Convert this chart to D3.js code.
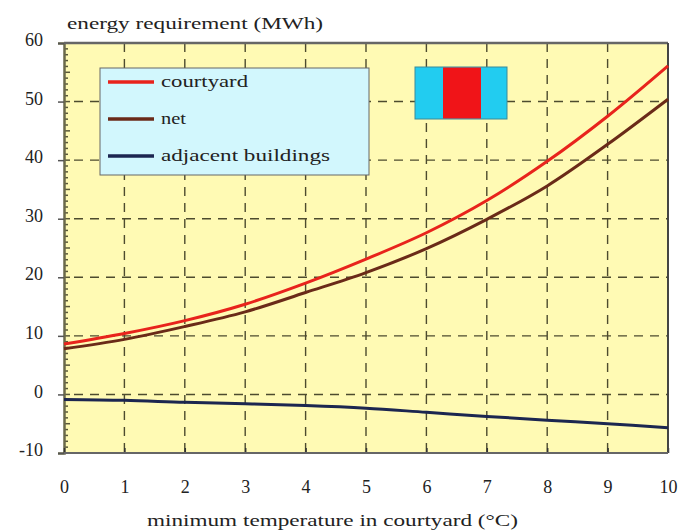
<!DOCTYPE html>
<html>
<head>
<meta charset="utf-8">
<script src="https://cdn.jsdelivr.net/npm/d3@7"></script>
<style>
html,body{margin:0;padding:0;background:#fff;}
svg{display:block;}
text{font-family:"Liberation Serif","Times New Roman",Times,serif;fill:#222;}
</style>
</head>
<body>
<svg id="chart" width="680" height="531"></svg>
<script>
const temperatures = [0,1,2,3,4,5,6,7,8,9,10];
const courtyard = [8.6,10.4,12.6,15.4,19.0,23.1,27.6,33.1,39.8,47.5,56.1];
const net = [7.8,9.4,11.6,14.1,17.4,20.8,24.9,29.9,35.6,42.7,50.4];
const adjacent = [-0.85,-1.0,-1.35,-1.6,-1.9,-2.35,-3.05,-3.75,-4.4,-5.0,-5.7];
const xTicks = [0,1,2,3,4,5,6,7,8,9,10];
const yTicks = [-10,0,10,20,30,40,50,60];
const seriesNames = ["courtyard","net","adjacent buildings"];
const seriesColors = ["#e8231c","#6a2a18","#1c2650"];
const yTitle = "energy requirement (MWh)";
const xTitle = "minimum temperature in courtyard (°C)";

const svg = d3.select("#chart");
const L = 64, R = 668, T = 43, B = 453;
const x = d3.scaleLinear().domain([0,10]).range([L,R]);
const y = d3.scaleLinear().domain([-10,60]).range([B,T]);

// plot background
svg.append("rect").attr("x",L).attr("y",T).attr("width",R-L).attr("height",B-T).attr("fill","#fffab4");

// grid
const grid = svg.append("g").attr("stroke","#4d4b2e").attr("stroke-width",1.4).attr("stroke-dasharray","9,7");
grid.selectAll(".h").data(yTicks.filter(d=>d>-10 && d<60)).join("line")
  .attr("x1",L+10).attr("x2",R).attr("y1",d=>y(d)).attr("y2",d=>y(d));
grid.selectAll(".v").data(xTicks.filter(d=>d>0 && d<10)).join("line")
  .attr("x1",d=>x(d)).attr("x2",d=>x(d)).attr("y1",T).attr("y2",B);

// minor ticks on left axis
const minor = d3.range(-10,61,1);
svg.append("g").attr("stroke","#5a5838").attr("stroke-width",1.5)
  .selectAll("line").data(minor).join("line")
  .attr("x1",L).attr("x2",d=>d%5===0?L+6:L+4).attr("y1",d=>y(d)).attr("y2",d=>y(d));

// y axis
const yAxis = d3.axisLeft(y).tickValues(yTicks).tickSize(6).tickPadding(15).tickFormat(d=>String(d));
const gy = svg.append("g").attr("transform",`translate(${L},0)`).call(yAxis);
gy.select(".domain").attr("stroke","#6b6a4a").attr("stroke-width",2.5);
gy.selectAll(".tick line").attr("stroke","#555").attr("stroke-width",1.5);
gy.selectAll(".tick text").attr("font-size",18).attr("dy","0.15em").attr("fill","#333");

// x axis
const xAxis = d3.axisBottom(x).tickValues(xTicks).tickSize(-5).tickPadding(27).tickFormat(d=>String(d));
const gx = svg.append("g").attr("transform",`translate(0,${B})`).call(xAxis);
gx.select(".domain").remove();
gx.selectAll(".tick line").attr("stroke","#333").attr("stroke-width",1.5);
gx.selectAll(".tick text").attr("font-size",18).attr("fill","#333");

// frame
svg.append("line").attr("x1",L).attr("x2",R).attr("y1",T).attr("y2",T).attr("stroke","#666").attr("stroke-width",2.5);
svg.append("line").attr("x1",R).attr("x2",R).attr("y1",T).attr("y2",B).attr("stroke","#444").attr("stroke-width",2);
svg.append("line").attr("x1",L).attr("x2",R).attr("y1",B).attr("y2",B).attr("stroke","#666").attr("stroke-width",2);

// lines
const line = d3.line().x((d,i)=>x(temperatures[i])).y(d=>y(d)).curve(d3.curveCatmullRom.alpha(0.5));
[courtyard,net,adjacent].forEach((s,i)=>{
  svg.append("path").datum(s).attr("d",line).attr("fill","none")
    .attr("stroke",seriesColors[i]).attr("stroke-width",3);
});

// legend
const lg = svg.append("g");
lg.append("rect").attr("x",100).attr("y",68).attr("width",269).attr("height",107)
  .attr("fill","#d2f7fd").attr("stroke","#666").attr("stroke-width",1);
const legendW = [87,25,169];
seriesNames.forEach((n,i)=>{
  const yy = 82 + i*37;
  lg.append("line").attr("x1",108).attr("x2",154).attr("y1",yy).attr("y2",yy)
    .attr("stroke",seriesColors[i]).attr("stroke-width",3.5);
  lg.append("text").attr("x",161).attr("y",yy+5).attr("font-size",17)
    .attr("textLength",legendW[i]).attr("lengthAdjust","spacingAndGlyphs").attr("fill","#1e3535").text(n);
});

// icon
const icon = svg.append("g");
icon.append("rect").attr("x",415).attr("y",67).attr("width",92).attr("height",52).attr("fill","#22ccf0").attr("stroke","#3a8a9a").attr("stroke-width",1);
icon.append("rect").attr("x",443).attr("y",67.5).attr("width",38).attr("height",51).attr("fill","#f01418");

// titles
svg.append("text").attr("x",67).attr("y",29).attr("font-size",17)
  .attr("textLength",256).attr("lengthAdjust","spacingAndGlyphs").attr("fill","#222").text(yTitle);
svg.append("text").attr("x",147).attr("y",526).attr("font-size",17)
  .attr("textLength",371).attr("lengthAdjust","spacingAndGlyphs").attr("fill","#222").text(xTitle);
</script>
</body>
</html>
